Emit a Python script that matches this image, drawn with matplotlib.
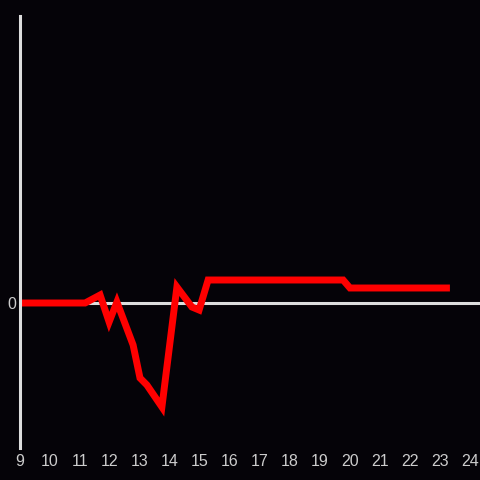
import matplotlib
matplotlib.use("Agg")
import matplotlib.pyplot as plt

# hours of the day and the series value
hours = [9.0, 11.17, 11.67, 11.97, 12.23, 12.77, 13.0, 13.23, 13.73,
         14.23, 14.73, 14.97, 15.27, 19.77, 20.0, 23.33]
values = [0.0, 0.0, 0.08, -0.19, 0.01, -0.42, -0.75, -0.82, -1.04,
          0.16, -0.04, -0.07, 0.23, 0.23, 0.15, 0.15]
xticks = list(range(9, 25))

bg = "#050308"
fig = plt.figure(figsize=(4.8, 4.8), dpi=100, facecolor=bg)
ax = fig.add_axes([20/480, 32/480, 460/480, 432/480], facecolor=bg)

ax.axhline(0, color="#dddddd", lw=2.2, zorder=1)
ax.plot(hours, values, color="#ff0000", lw=5, solid_capstyle="butt",
        solid_joinstyle="miter", zorder=2)

ax.set_xlim(9, 24.333)
ax.set_ylim(-1.45, 2.87)
ax.set_xticks(xticks)
ax.set_yticks([0])
ax.tick_params(length=0, colors="#cccccc", labelsize=11.5)
ax.tick_params(axis="x", pad=4)
ax.tick_params(axis="y", pad=3)
for lab in ax.get_xticklabels() + ax.get_yticklabels():
    lab.set_family("Liberation Sans")

for s in ["top", "right", "bottom"]:
    ax.spines[s].set_visible(False)
ax.spines["left"].set_color("#dddddd")
ax.spines["left"].set_linewidth(2.2)

fig.savefig("out.png", dpi=100, facecolor=bg)
